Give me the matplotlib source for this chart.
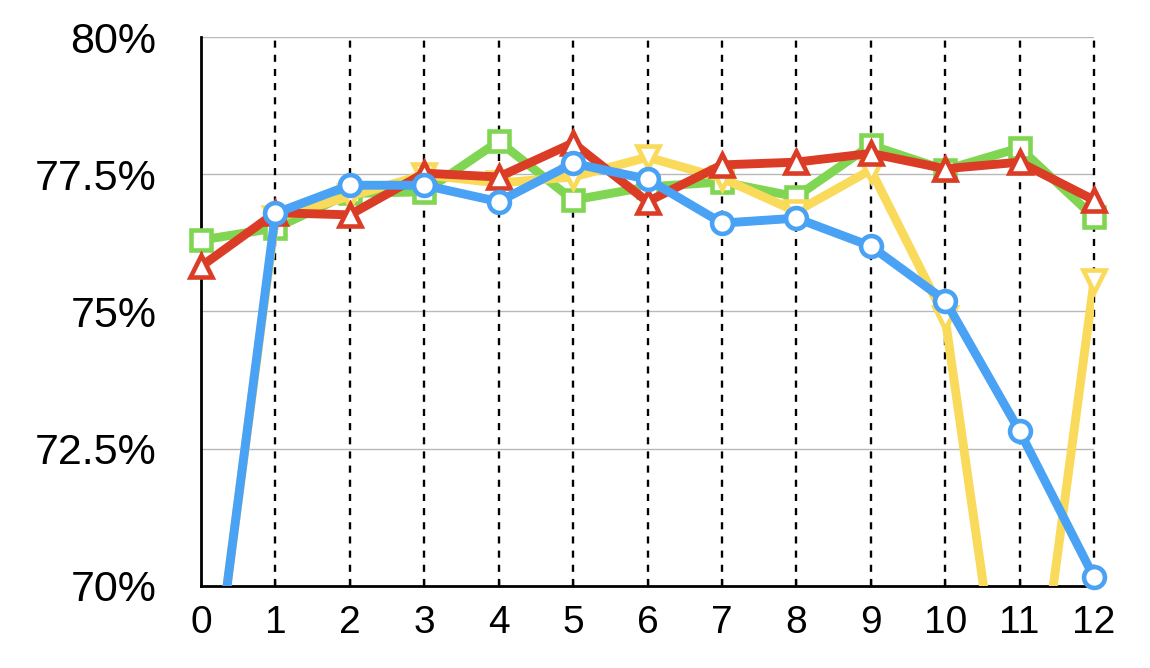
import matplotlib
matplotlib.use("Agg")
import matplotlib.pyplot as plt
from matplotlib import font_manager
import numpy as np

x = list(range(13))
green = [76.30, 76.52, 77.15, 77.18, 78.10, 77.03, 77.27, 77.36, 77.09, 78.03, 77.58, 77.98, 76.72]
red = [75.82, 76.80, 76.76, 77.52, 77.45, 78.07, 77.00, 77.67, 77.72, 77.88, 77.60, 77.72, 77.03]
yellow = [66.4, 76.70, 77.10, 77.49, 77.34, 77.45, 77.81, 77.43, 76.82, 77.58, 74.88, 65.4, 75.55]
blue = [66.35, 76.79, 77.30, 77.30, 77.00, 77.70, 77.41, 76.61, 76.70, 76.19, 75.20, 72.82, 70.16]

ytick_vals = [70, 72.5, 75, 77.5, 80]
ytick_labels = ["70%", "72.5%", "75%", "77.5%", "80%"]
xtick_labels = [str(i) for i in x]

names = {f.name for f in font_manager.fontManager.ttflist}
base_font = "Liberation Sans" if "Liberation Sans" in names else "DejaVu Sans"

fig = plt.figure(figsize=(11.5, 6.68), dpi=100)
ax = fig.add_axes([0.1748, 0.1228, 0.9513 - 0.1748, 0.9446 - 0.1228])

ax.set_xlim(0, 12)
ax.set_ylim(70, 80)

for v in [72.5, 75, 77.5, 80]:
    ax.axhline(v, color="#b8b8b8", lw=1.0, zorder=0)
for v in range(1, 13):
    ax.axvline(v, color="black", lw=1.7, ls=(0, (3, 3)), zorder=0.5, clip_on=False)

series = [
    (green, "#80d653", "s", 14),
    (yellow, "#f9da5a", "v", 16),
    (red, "#db3c26", "^", 16),
    (blue, "#4aa2f5", "o", 15),
]
for i, (vals, col, mk, ms) in enumerate(series):
    z = 2 + i
    ax.plot(x, vals, color=col, lw=6.4, zorder=z, solid_joinstyle="miter")
    xs = [xx for xx, v in zip(x, vals) if v >= 70]
    vs = [v for v in vals if v >= 70]
    ax.plot(xs, vs, ls="none", marker=mk, ms=ms, mfc="white", mec=col, mew=3.3,
            zorder=z + 0.5, clip_on=False)

for s in ["top", "right"]:
    ax.spines[s].set_visible(False)
ax.spines["left"].set_linewidth(2)
ax.spines["bottom"].set_linewidth(2)
ax.spines["left"].set_zorder(1)
ax.spines["bottom"].set_zorder(1)

ax.set_yticks(ytick_vals)
ax.set_yticklabels(ytick_labels, fontsize=31, family=base_font)
ax.tick_params(axis="y", length=0, pad=32)
ax.set_xticks(x)
ax.set_xticklabels(xtick_labels, fontsize=28, family=base_font)
ax.tick_params(axis="x", direction="in", length=5, width=1, pad=14)

fig.savefig("out.png", dpi=100)
